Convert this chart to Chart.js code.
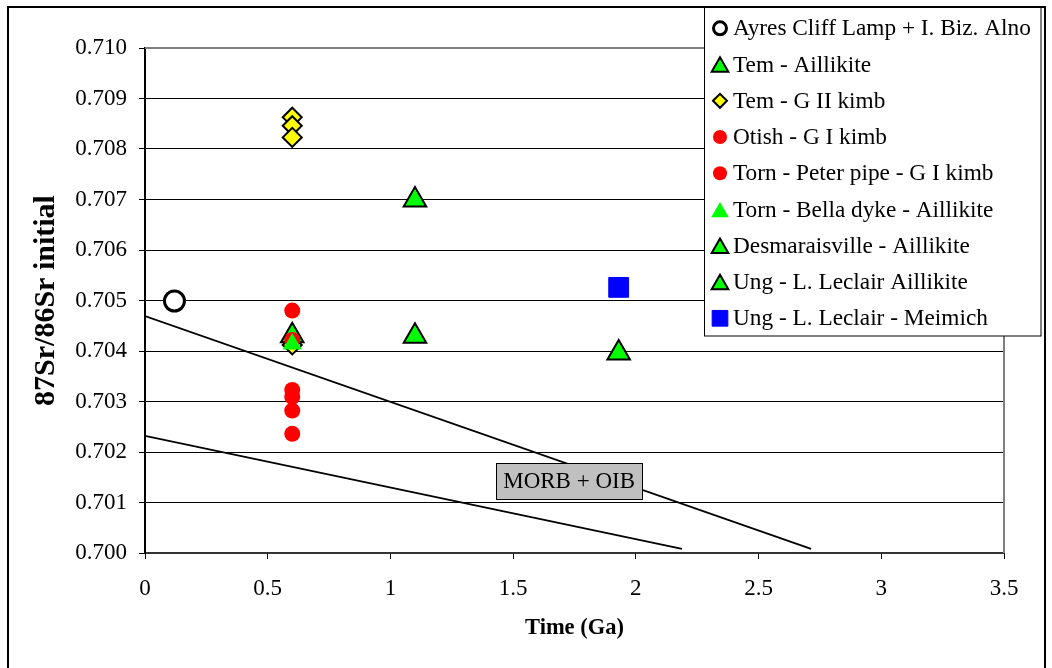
<!DOCTYPE html>
<html><head><meta charset="utf-8">
<script src="https://cdn.jsdelivr.net/npm/chart.js@4/dist/chart.umd.min.js"></script>
<style>html,body{margin:0;padding:0;background:#fff;}canvas{display:block;}</style>
</head><body>
<canvas id="c" width="1052" height="668"></canvas>
<script>
// ---------- data ----------
const seriesNames = [
  'Ayres Cliff Lamp + I. Biz. Alno',
  'Tem - Aillikite',
  'Tem - G II kimb',
  'Otish - G I kimb',
  'Torn - Peter pipe - G I kimb',
  'Torn - Bella dyke - Aillikite',
  'Desmaraisville - Aillikite',
  'Ung - L. Leclair Aillikite',
  'Ung - L. Leclair - Meimich'
];
const ayresCliff   = [[0.12, 0.70499]];
const temAillikite = [[0.6, 0.70430]];
const temGII       = [[0.6, 0.70863], [0.6, 0.70846], [0.6, 0.70823], [0.6, 0.70412]];
const otish        = [[0.6, 0.70480], [0.6, 0.70323], [0.6, 0.70309]];
const tornPeter    = [[0.6, 0.70282], [0.6, 0.70236], [0.6, 0.70422]];
const tornBella    = [[0.6, 0.70414]];
const desmarais    = [[1.1, 0.70699], [1.1, 0.70429]];
const ungAillikite = [[1.93, 0.70396]];
const ungMeimich   = [[1.93, 0.70526]];
const morbUpper    = [[0, 0.70469], [2.714, 0.70008]];
const morbLower    = [[0, 0.70232], [2.188, 0.70008]];
const xTickValues  = [0, 0.5, 1, 1.5, 2, 2.5, 3, 3.5];
const yTickValues  = [0.700, 0.701, 0.702, 0.703, 0.704, 0.705, 0.706, 0.707, 0.708, 0.709, 0.710];
const xTitle = 'Time (Ga)';
const yTitle = '87Sr/86Sr initial';
const boxLabel = 'MORB + OIB';
const boxAnchor = [1.728, 0.70142];

// ---------- styles ----------
const FONT = 'Liberation Serif';
const allSeries = [ayresCliff, temAillikite, temGII, otish, tornPeter, tornBella, desmarais, ungAillikite, ungMeimich];
const styles = [
  {ps:'circle',   r:10, bg:'#ffffff', bc:'#000000', bw:3, lr:6.5},
  {ps:'triangle', r:13, bg:'#00ff00', bc:'#000000', bw:2, lr:9},
  {ps:'rectRot',  r:9.5, bg:'#ffff00', bc:'#000000', bw:2, lr:7},
  {ps:'circle',   r:8,  bg:'#ff0000', bc:'#ff0000', bw:0, lr:7},
  {ps:'circle',   r:8,  bg:'#ff0000', bc:'#ff0000', bw:0, lr:7},
  {ps:'triangle', r:11, bg:'#00ff00', bc:'#00ff00', bw:0, lr:9.5},
  {ps:'triangle', r:13, bg:'#00ff00', bc:'#000000', bw:2, lr:9},
  {ps:'triangle', r:13, bg:'#00ff00', bc:'#000000', bw:2, lr:9},
  {ps:'rect',     r:14, bg:'#0000ff', bc:'#0000ff', bw:1, lr:11}
];

const datasets = allSeries.map((s, i) => ({
  label: seriesNames[i],
  data: s.map(p => ({x: p[0], y: p[1]})),
  showLine: false,
  pointStyle: styles[i].ps,
  pointRadius: styles[i].r,
  pointBackgroundColor: styles[i].bg,
  pointBorderColor: styles[i].bc,
  pointBorderWidth: styles[i].bw,
  order: 20 - i
}));
[morbUpper, morbLower].forEach(l => datasets.push({
  label: '',
  data: l.map(p => ({x: p[0], y: p[1]})),
  showLine: true,
  borderColor: '#000',
  borderWidth: 1.8,
  pointRadius: 0,
  fill: false,
  order: 30
}));

function marker(ctx, st, x, y) {
  const r = st.lr;
  ctx.save();
  ctx.beginPath();
  if (st.ps === 'circle') {
    ctx.arc(x, y, r, 0, Math.PI * 2);
  } else if (st.ps === 'triangle') {
    const h = r * 1.6, w = r * 1.85;
    ctx.moveTo(x, y - h / 2);
    ctx.lineTo(x + w / 2, y + h / 2);
    ctx.lineTo(x - w / 2, y + h / 2);
    ctx.closePath();
  } else if (st.ps === 'rectRot') {
    ctx.moveTo(x - r, y); ctx.lineTo(x, y - r); ctx.lineTo(x + r, y); ctx.lineTo(x, y + r);
    ctx.closePath();
  } else {
    ctx.rect(x - r / 1.4, y - r / 1.4, 2 * r / 1.4, 2 * r / 1.4);
  }
  ctx.fillStyle = st.bg; ctx.fill();
  if (st.bw > 0) { ctx.lineWidth = st.bw; ctx.strokeStyle = st.bc; ctx.stroke(); }
  ctx.restore();
}

const decor = {
  id: 'decor',
  afterDraw(chart) {
    const ctx = chart.ctx;
    const {left, right, top, bottom} = chart.chartArea;
    const xs = chart.scales.x, ys = chart.scales.y;
    ctx.save();
    // plot area border (top and right)
    ctx.strokeStyle = '#808080'; ctx.lineWidth = 2;
    ctx.beginPath(); ctx.moveTo(left, top); ctx.lineTo(right, top); ctx.lineTo(right, bottom); ctx.stroke();
    // MORB + OIB box
    const cx = xs.getPixelForValue(boxAnchor[0]), cy = ys.getPixelForValue(boxAnchor[1]);
    ctx.fillStyle = '#c0c0c0'; ctx.fillRect(cx - 73, cy - 18, 146, 36);
    ctx.strokeStyle = '#000'; ctx.lineWidth = 1; ctx.strokeRect(Math.round(cx - 73) + 0.5, Math.round(cy - 18) + 0.5, 146, 36);
    ctx.fillStyle = '#000'; ctx.font = '23px "' + FONT + '"'; ctx.textAlign = 'center'; ctx.textBaseline = 'middle';
    ctx.fillText(boxLabel, cx, cy + 1);
    // legend
    ctx.fillStyle = '#fff'; ctx.fillRect(704.5, 7.5, 336.5, 328.5);
    ctx.strokeStyle = '#000'; ctx.lineWidth = 1; ctx.strokeRect(704.5, 7.5, 336.5, 328.5);
    ctx.textAlign = 'left'; ctx.textBaseline = 'middle'; ctx.font = '23.3px "' + FONT + '"';
    seriesNames.forEach((n, i) => {
      const yy = 28.3 + i * 36.25;
      marker(ctx, styles[i], 720, yy);
      ctx.fillStyle = '#000';
      ctx.fillText(n, 733, yy + 1);
    });
    // outer frame
    ctx.strokeStyle = '#000'; ctx.lineWidth = 2;
    ctx.strokeRect(8, 7, 1037, 700);
    ctx.restore();
  }
};

new Chart(document.getElementById('c'), {
  type: 'scatter',
  data: {datasets},
  plugins: [decor],
  options: {
    responsive: false,
    devicePixelRatio: 1,
    animation: false,
    layout: {padding: {left: 0, top: 48, right: 48, bottom: 0}},
    plugins: {legend: {display: false}, tooltip: {enabled: false}},
    scales: {
      x: {
        type: 'linear', min: 0, max: 3.5,
        afterBuildTicks: s => { s.ticks = xTickValues.map(v => ({value: v})); },
        afterFit: s => { s.height = 115; },
        grid: {drawOnChartArea: false, drawTicks: true, tickLength: 6, color: '#000', tickColor: '#000', tickWidth: 1},
        border: {display: true, color: '#333', width: 2},
        ticks: {padding: 16, color: '#000', autoSkip: false, maxRotation: 0, font: {family: FONT, size: 23}, callback: v => String(v)},
        title: {display: true, text: xTitle, color: '#000', font: {family: FONT, size: 22.5, weight: 'bold'}, padding: {top: 0, bottom: 26}}
      },
      y: {
        type: 'linear', min: 0.700, max: 0.710,
        afterBuildTicks: s => { s.ticks = yTickValues.map(v => ({value: v})); },
        afterFit: s => { s.width = 145; },
        grid: {drawOnChartArea: true, drawTicks: true, tickLength: 6, color: '#000', tickColor: '#000', lineWidth: 1},
        border: {display: true, color: '#000', width: 2},
        ticks: {padding: 12, color: '#000', font: {family: FONT, size: 23}, callback: v => v.toFixed(3)},
        title: {display: true, text: yTitle, color: '#000', font: {family: FONT, size: 30, weight: 'bold'}, padding: {top: 28, bottom: 0}}
      }
    }
  }
});
</script>
</body></html>
